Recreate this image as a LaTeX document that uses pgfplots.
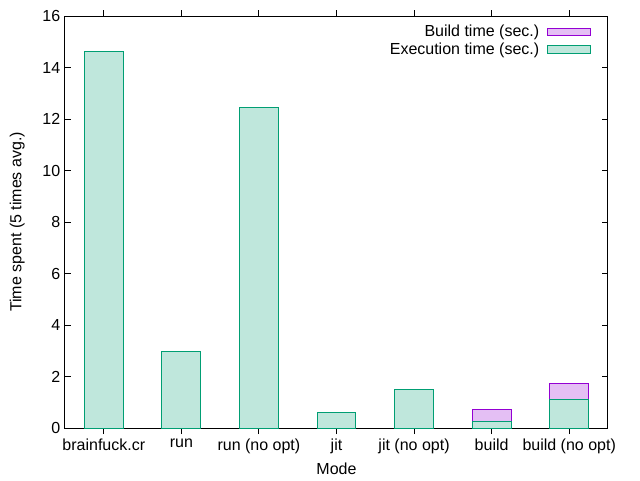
\documentclass[border=0pt]{standalone}
\usepackage{fontspec}
\setmainfont{Liberation Sans}
\usepackage{pgfplots}
\pgfplotsset{compat=1.18}

\definecolor{execfill}{RGB}{191,231,220}
\definecolor{execline}{RGB}{0,158,115}
\definecolor{buildfill}{RGB}{228,191,244}
\definecolor{buildline}{RGB}{148,0,211}

\begin{document}
\begin{tikzpicture}[font=\fontsize{12}{14}\selectfont]
\begin{axis}[
    scale only axis,
    width=407.25pt, height=309pt,
    xmin=-0.5, xmax=6.5,
    ymin=0, ymax=16,
    ytick={0,2,4,6,8,10,12,14,16},
    xtick={0,1,2,3,4,5,6},
    xticklabels={brainfuck.cr,run,run (no opt),jit,jit (no opt),build,build (no opt)},
    /pgf/number format/assume math mode=true,
    tick align=inside,
    major tick length=4.5pt,
    tick style={black, line width=0.75pt},
    axis line style={line width=0.75pt},
    xlabel={Mode},
    ylabel={Time spent (5 times avg.)},
    ylabel shift=6.5pt,
    ybar, bar width=0.5, bar shift=0pt,
    legend style={at={(0.969,0.985)}, anchor=north east, draw=none, fill=none,
        inner sep=0pt, row sep=-1pt},
    legend cell align=right,
    legend plot pos=right,
    legend image code/.code={\path (0pt,0pt);
        \draw[#1, line width=0.75pt] (4pt,-2.9pt) rectangle (36pt,2.9pt);},
]
\addplot[draw=buildline, fill=buildfill, line width=0.75pt]
    coordinates {(5,0.73) (6,1.74)};
\addlegendentry{Build time (sec.)}
\addplot[draw=execline, fill=execfill, line width=0.75pt]
    coordinates {(0,14.64) (1,2.99) (2,12.43) (3,0.60) (4,1.51) (5,0.26) (6,1.11)};
\addlegendentry{Execution time (sec.)}
\end{axis}
\pgfresetboundingbox
\path[use as bounding box] (-48.75pt,-39pt) rectangle (431.25pt,321pt);
\end{tikzpicture}
\end{document}
